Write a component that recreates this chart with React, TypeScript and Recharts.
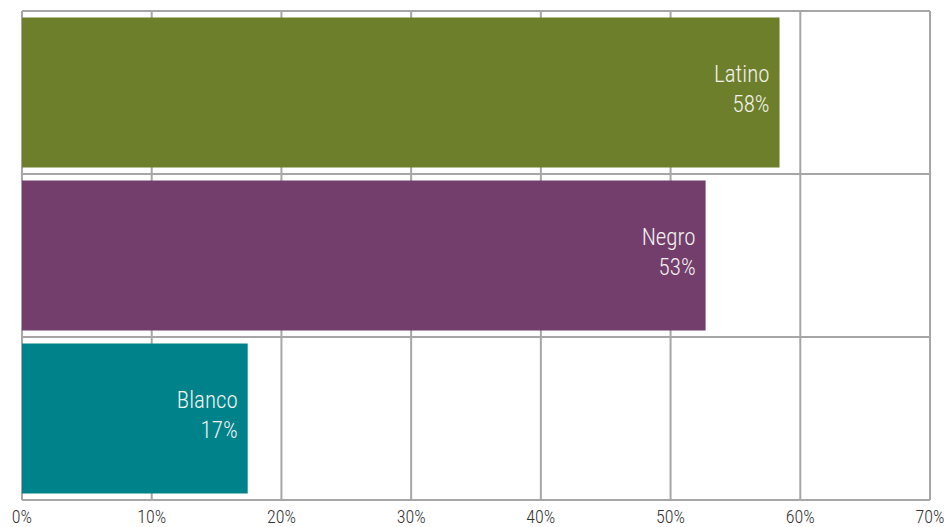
import React from 'react';
import { BarChart, Bar, XAxis, YAxis, CartesianGrid, Cell, LabelList } from 'recharts';

const categories = ['Latino', 'Negro', 'Blanco'];
const values = [58.4, 52.7, 17.4];
const valueLabels = ['58%', '53%', '17%'];
const colors = ['#6E7F2B', '#733E6B', '#00828A'];
const xTicks = [0, 10, 20, 30, 40, 50, 60, 70];

const data = categories.map((name, i) => ({ name, value: values[i], label: valueLabels[i], color: colors[i] }));

const FONT = "'Roboto Condensed', 'Liberation Sans Narrow', 'DejaVu Sans Condensed', Roboto, sans-serif";
const GRID = '#A6A6A6';

const BarLabel = (props: any) => {
  const { x, y, width, height, index } = props;
  const d = data[index];
  const rx = x + width - 10;
  const cy = y + height / 2;
  return (
    <g>
      <text x={rx} y={cy - 10.5} textAnchor="end" fill="#F2F2EE" fontSize={23} fontWeight={300} fontFamily={FONT}>
        {d.name}
      </text>
      <text x={rx} y={cy + 19.5} textAnchor="end" fill="#F2F2EE" fontSize={23} fontWeight={300} fontFamily={FONT}>
        {d.label}
      </text>
    </g>
  );
};

const hGen = (props: any) => {
  const { offset } = props;
  const n = categories.length;
  const pts: number[] = [];
  for (let i = 0; i <= n; i++) pts.push(offset.top + (i * offset.height) / n);
  return pts;
};

export default function App() {
  return (
    <div style={{ position: 'absolute', left: 0, top: 0, width: 947, height: 527, background: '#fff' }}>
      <BarChart
        width={947}
        height={527}
        data={data}
        layout="vertical"
        margin={{ top: 11, right: 17, left: 22, bottom: 0 }}
        barCategoryGap="4%"
      >
        <CartesianGrid stroke={GRID} strokeWidth={2} horizontalCoordinatesGenerator={hGen} />
        <XAxis
          type="number"
          domain={[0, 70]}
          ticks={xTicks}
          tickFormatter={(v: number) => `${v}%`}
          height={27}
          axisLine={{ stroke: GRID, strokeWidth: 2 }}
          tickLine={false}
          tickSize={0}
          tickMargin={10}
          tick={{ fontSize: 18, fill: '#333333', fontFamily: FONT, fontWeight: 300 }}
          interval={0}
        />
        <YAxis type="category" dataKey="name" hide />
        <Bar dataKey="value" isAnimationActive={false}>
          {data.map((d, i) => (
            <Cell key={i} fill={d.color} />
          ))}
          <LabelList dataKey="value" content={BarLabel} />
        </Bar>
      </BarChart>
    </div>
  );
}
